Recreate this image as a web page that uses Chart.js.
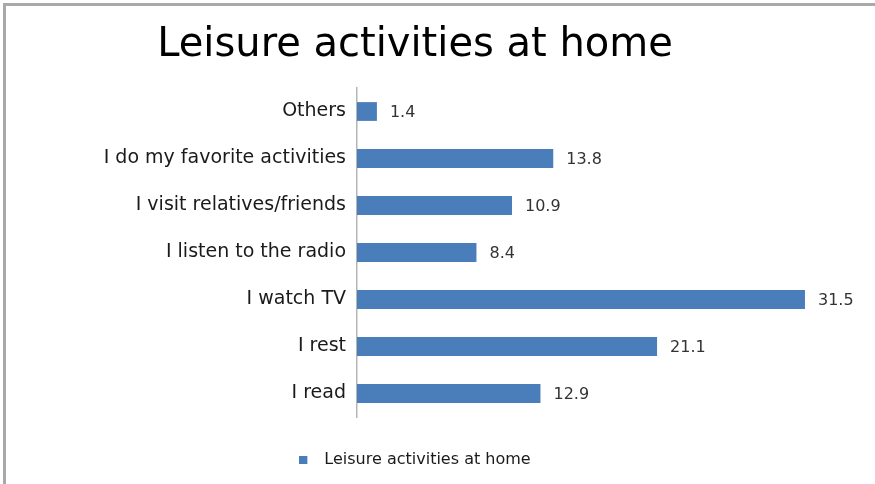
<!DOCTYPE html>
<html>
<head>
<meta charset="utf-8">
<script src="https://cdn.jsdelivr.net/npm/chart.js@4"></script>
<style>
    body { margin: 0; background: #fff; }
    .frame {
        position: absolute; left: 3px; top: 3px; width: 900px; height: 500px;
        border-left: 3px solid #a9a9a9; border-top: 3px solid #a9a9a9;
    }
    canvas { position: absolute; left: 0; top: 0; }
</style>
</head>
<body>
<div class="frame"></div>
<canvas id="myChart" width="875" height="484"></canvas>
<script>
const categories = [
    'Others',
    'I do my favorite activities',
    'I visit relatives/friends',
    'I listen to the radio',
    'I watch TV',
    'I rest',
    'I read'
];
const values = [1.4, 13.8, 10.9, 8.4, 31.5, 21.1, 12.9];
const seriesName = 'Leisure activities at home';
const barColor = '#4a7ebb';

// legend marker: small square with some space after it (like the Excel legend)
const marker = document.createElement('canvas');
marker.width = 17;
marker.height = 8;
const mctx = marker.getContext('2d');
mctx.fillStyle = barColor;
mctx.fillRect(0, 0, 8, 8);

// value labels next to the bar ends
const valueLabels = {
    id: 'valueLabels',
    afterDatasetsDraw(chart) {
        const ctx = chart.ctx;
        const meta = chart.getDatasetMeta(0);
        ctx.save();
        ctx.font = '16px "DejaVu Sans"';
        ctx.fillStyle = '#333333';
        ctx.textAlign = 'left';
        ctx.textBaseline = 'middle';
        meta.data.forEach((bar, i) => {
            ctx.fillText(values[i].toFixed(1), bar.x + 13, bar.y + 1);
        });
        ctx.restore();
    }
};

const ctx = document.getElementById('myChart').getContext('2d');
const myChart = new Chart(ctx, {
    type: 'bar',
    data: {
        labels: categories,
        datasets: [{
            label: seriesName,
            data: values,
            backgroundColor: barColor,
            borderWidth: 0,
            barPercentage: 0.8,
            categoryPercentage: 0.5,
            pointStyle: marker
        }]
    },
    options: {
        indexAxis: 'y',
        responsive: false,
        animation: false,
        layout: {padding: {left: 0, right: 45, top: 0, bottom: 6}},
        scales: {
            x: {
                min: 0,
                max: 33.26,
                grid: {display: false},
                border: {display: false},
                ticks: {display: false},
                afterFit: (s) => { s.height = 25; }
            },
            y: {
                grid: {color: 'transparent', drawTicks: false},
                border: {display: true, color: '#b5b5b5', width: 1.5},
                ticks: {
                    padding: 11,
                    color: '#1a1a1a',
                    font: {family: '"DejaVu Sans"', size: 19}
                },
                afterFit: (s) => { s.width = 357; }
            }
        },
        plugins: {
            title: {
                display: true,
                text: 'Leisure activities at home',
                color: '#000000',
                font: {family: '"DejaVu Sans"', size: 40, weight: 'normal'},
                padding: {top: 22, bottom: 18}
            },
            legend: {
                position: 'bottom',
                labels: {
                    usePointStyle: true,
                    pointStyleWidth: 17,
                    boxHeight: 8,
                    color: '#1a1a1a',
                    font: {family: '"DejaVu Sans"', size: 16}
                }
            },
            tooltip: {enabled: false}
        }
    },
    plugins: [valueLabels]
});
</script>
</body>
</html>
